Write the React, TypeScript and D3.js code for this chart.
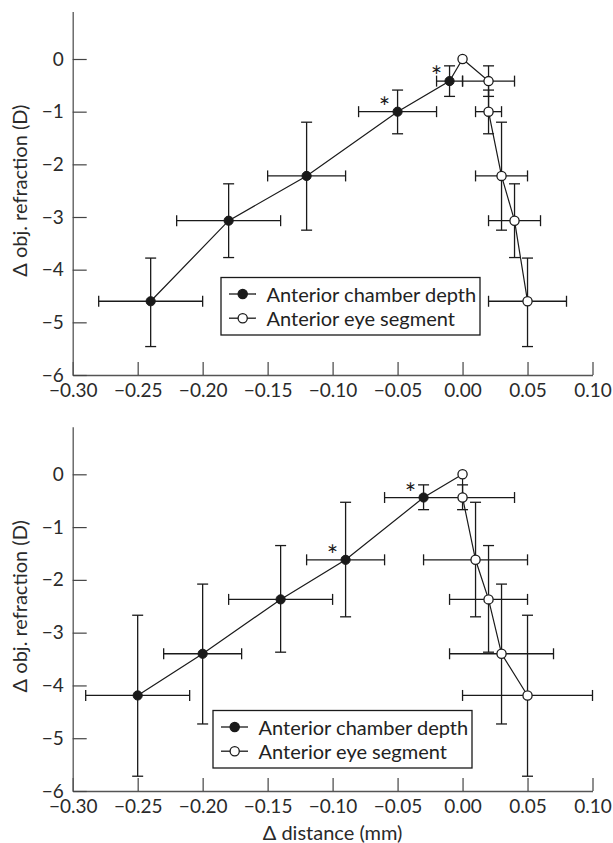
import React, { useEffect, useRef } from 'react';
import * as d3 from 'd3';

// upper panel
const topAcdX = [-0.24, -0.18, -0.12, -0.05, -0.01];
const topAcdXLo = [-0.28, -0.22, -0.15, -0.08, -0.02];
const topAcdXHi = [-0.2, -0.14, -0.09, -0.02, 0.0];
const topAesX = [0.05, 0.04, 0.03, 0.02, 0.02];
const topAesXLo = [0.02, 0.02, 0.01, 0.01, 0.0];
const topAesXHi = [0.08, 0.06, 0.05, 0.03, 0.04];
const topRefr = [-4.6, -3.07, -2.22, -1.0, -0.42];
const topRefrLo = [-5.46, -3.77, -3.25, -1.42, -0.71];
const topRefrHi = [-3.78, -2.37, -1.2, -0.59, -0.13];

// lower panel
const botAcdX = [-0.25, -0.2, -0.14, -0.09, -0.03];
const botAcdXLo = [-0.29, -0.23, -0.18, -0.12, -0.06];
const botAcdXHi = [-0.21, -0.17, -0.1, -0.06, 0.0];
const botAesX = [0.05, 0.03, 0.02, 0.01, 0.0];
const botAesXLo = [0.0, -0.01, -0.01, -0.03, 0.0];
const botAesXHi = [0.1, 0.07, 0.05, 0.05, 0.04];
const botRefr = [-4.19, -3.4, -2.37, -1.62, -0.44];
const botRefrLo = [-5.72, -4.73, -3.37, -2.7, -0.67];
const botRefrHi = [-2.67, -2.08, -1.35, -0.53, -0.2];

// points marked with an asterisk (index into the arrays above)
const starred = [3, 4];

const origin = { x: 0, y: 0 };
const xTicks = [-0.3, -0.25, -0.2, -0.15, -0.1, -0.05, 0, 0.05, 0.1];
const yTicks = [-6, -5, -4, -3, -2, -1, 0];
const legendLabels = ['Anterior chamber depth', 'Anterior eye segment'];
const yTitle = 'Δ obj. refraction (D)';
const xTitle = 'Δ distance (mm)';

const FONT = 'Lato, "Open Sans", sans-serif';
const INK = '#1a1a1a';

const toPoints = (xs, xlo, xhi, ys, ylo, yhi) =>
  xs.map((x, i) => ({ x, y: ys[i], xlo: xlo[i], xhi: xhi[i], ylo: ylo[i], yhi: yhi[i] }));

const panels = [
  {
    acd: toPoints(topAcdX, topAcdXLo, topAcdXHi, topRefr, topRefrLo, topRefrHi),
    aes: toPoints(topAesX, topAesXLo, topAesXHi, topRefr, topRefrLo, topRefrHi),
    top: 11.6, bottom: 375, legend: { x: 221, y: 277.5 }, xTitle: false,
  },
  {
    acd: toPoints(botAcdX, botAcdXLo, botAcdXHi, botRefr, botRefrLo, botRefrHi),
    aes: toPoints(botAesX, botAesXLo, botAesXHi, botRefr, botRefrLo, botRefrHi),
    top: 426.8, bottom: 791, legend: { x: 213, y: 710.5 }, xTitle: true,
  },
];

const drawPanel = (root, p) => {
  const x = d3.scaleLinear().domain([-0.3, 0.1]).range([72.7, 592.5]);
  const y = d3.scaleLinear().domain([-6, 0.9]).range([p.bottom, p.top]);
  const g = root.append('g');

  // axes
  const xa = g.append('g')
    .attr('transform', `translate(0,${p.bottom})`)
    .call(d3.axisBottom(x).tickValues(xTicks).tickFormat(d3.format('.2f'))
      .tickSizeInner(-13).tickSizeOuter(0).tickPadding(9));
  const ya = g.append('g')
    .attr('transform', `translate(${x(-0.3)},0)`)
    .call(d3.axisLeft(y).tickValues(yTicks).tickFormat(d3.format('d'))
      .tickSizeInner(-14).tickSizeOuter(0).tickPadding(9));
  [xa, ya].forEach(a => {
    a.select('.domain').attr('stroke', '#555').attr('stroke-width', 1.3);
    a.selectAll('.tick line').attr('stroke', '#444').attr('stroke-width', 1.2);
    a.selectAll('.tick text').attr('fill', '#2a2a2a')
      .style('font-family', FONT).style('font-size', '19px');
  });

  g.append('text')
    .attr('transform', `translate(18.5,${y(-2.5)}) rotate(-90)`)
    .attr('text-anchor', 'middle')
    .attr('dominant-baseline', 'central')
    .attr('fill', '#2a2a2a')
    .style('font-family', FONT).style('font-size', '20px')
    .text(yTitle);

  if (p.xTitle) {
    g.append('text')
      .attr('x', (x(-0.3) + x(0.1)) / 2)
      .attr('y', p.bottom + 41)
      .attr('text-anchor', 'middle')
      .attr('dominant-baseline', 'central')
      .attr('fill', '#2a2a2a')
      .style('font-family', FONT).style('font-size', '20px')
      .text(xTitle);
  }

  const cap = 5.5;
  const bars = g.append('g').attr('stroke', INK).attr('stroke-width', 1.3).attr('fill', 'none');
  [...p.acd, ...p.aes].forEach(d => {
    bars.append('line').attr('x1', x(d.xlo)).attr('x2', x(d.xhi)).attr('y1', y(d.y)).attr('y2', y(d.y));
    bars.append('line').attr('x1', x(d.xlo)).attr('x2', x(d.xlo)).attr('y1', y(d.y) - cap).attr('y2', y(d.y) + cap);
    bars.append('line').attr('x1', x(d.xhi)).attr('x2', x(d.xhi)).attr('y1', y(d.y) - cap).attr('y2', y(d.y) + cap);
    bars.append('line').attr('x1', x(d.x)).attr('x2', x(d.x)).attr('y1', y(d.ylo)).attr('y2', y(d.yhi));
    bars.append('line').attr('x1', x(d.x) - cap).attr('x2', x(d.x) + cap).attr('y1', y(d.ylo)).attr('y2', y(d.ylo));
    bars.append('line').attr('x1', x(d.x) - cap).attr('x2', x(d.x) + cap).attr('y1', y(d.yhi)).attr('y2', y(d.yhi));
  });

  const line = d3.line().x(d => x(d.x)).y(d => y(d.y));
  g.append('path').datum([...p.acd, origin])
    .attr('d', line).attr('fill', 'none').attr('stroke', INK).attr('stroke-width', 1.2);
  g.append('path').datum([origin, ...p.aes.slice().reverse()])
    .attr('d', line).attr('fill', 'none').attr('stroke', INK).attr('stroke-width', 1.2);

  g.selectAll('.acd').data(p.acd).enter().append('circle')
    .attr('cx', d => x(d.x)).attr('cy', d => y(d.y)).attr('r', 4.6)
    .attr('fill', INK).attr('stroke', INK).attr('stroke-width', 1);
  g.selectAll('.aes').data([origin, ...p.aes]).enter().append('circle')
    .attr('cx', d => x(d.x)).attr('cy', d => y(d.y)).attr('r', 4.6)
    .attr('fill', '#fff').attr('stroke', INK).attr('stroke-width', 1.3);

  g.selectAll('.star').data(starred.map(i => p.acd[i])).enter().append('text')
    .attr('x', d => x(d.x) - 13).attr('y', d => y(d.y) + 5)
    .attr('text-anchor', 'middle').attr('fill', INK)
    .style('font-family', FONT).style('font-size', '27px')
    .text('*');

  // legend
  const lg = g.append('g').attr('transform', `translate(${p.legend.x},${p.legend.y})`);
  lg.append('rect').attr('width', 259).attr('height', 57.5)
    .attr('fill', '#fff').attr('stroke', INK).attr('stroke-width', 1.3);
  legendLabels.forEach((label, i) => {
    const cy = 16.5 + i * 24.2;
    lg.append('line').attr('x1', 8).attr('x2', 35).attr('y1', cy).attr('y2', cy)
      .attr('stroke', INK).attr('stroke-width', 1.3);
    lg.append('circle').attr('cx', 21.7).attr('cy', cy).attr('r', 4.6)
      .attr('fill', i === 0 ? INK : '#fff').attr('stroke', INK).attr('stroke-width', 1.3);
    lg.append('text').attr('x', 45.5).attr('y', cy)
      .attr('dominant-baseline', 'central').attr('fill', '#222')
      .style('font-family', FONT).style('font-size', '20px')
      .text(label);
  });
};

export default function App() {
  const ref = useRef(null);

  useEffect(() => {
    const svg = d3.select(ref.current);
    svg.selectAll('*').remove();
    panels.forEach(p => drawPanel(svg, p));
  }, []);

  return (
    <svg ref={ref} width={613} height={843}
      style={{ position: 'absolute', left: 0, top: 0, background: '#fff' }} />
  );
}
